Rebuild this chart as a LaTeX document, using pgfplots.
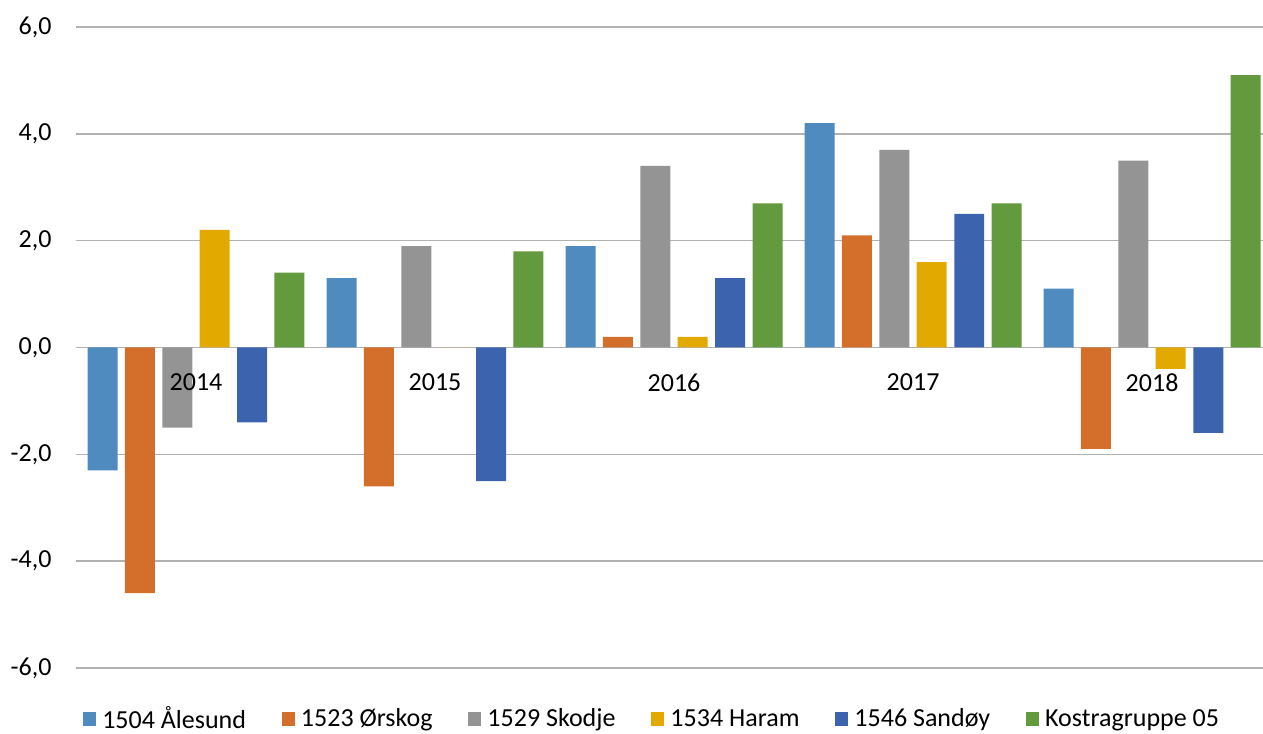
\documentclass[border=0pt]{standalone}
\usepackage{pgfplots}
\pgfplotsset{compat=1.18}
\usepackage{fontspec}
\setmainfont{Carlito}
\definecolor{cA}{RGB}{79,139,191}
\definecolor{cB}{RGB}{212,111,43}
\definecolor{cC}{RGB}{148,148,148}
\definecolor{cD}{RGB}{226,170,0}
\definecolor{cE}{RGB}{60,100,174}
\definecolor{cF}{RGB}{99,154,61}
\definecolor{gridc}{RGB}{178,178,178}
\begin{document}
\begin{tikzpicture}
\begin{axis}[
  scale only axis,
  width=593.25pt, height=320.5pt,
  xmin=-0.5, xmax=4.464,
  ymin=-6, ymax=6,
  ytick={-6,-4,-2,0,2,4,6},
  xtick={0,1,2,3,4},
  xticklabels={},
  axis line style={draw=none},
  major tick length=0pt,
  ymajorgrids,
  grid style={gridc, line width=0.75pt},
  font=\fontsize{13}{15}\selectfont,
  /pgf/number format/assume math mode=true,
  /pgf/number format/fixed,
  /pgf/number format/fixed zerofill,
  /pgf/number format/precision=1,
  /pgf/number format/use comma,
  yticklabel style={xshift=-9pt},
  ybar,
  bar width=0.1255,
  legend columns=6,
  legend style={draw=none, fill=none, at={(rel axis cs:0.486,-0.080)}, anchor=center,
    /tikz/every even column/.append style={column sep=16pt}, font=\fontsize{13}{15}\selectfont,
    /tikz/every odd column/.append style={column sep=1pt}},
  legend image code/.code={\fill[#1] (0pt,-3.4pt) rectangle (6.5pt,3.4pt);},
]
\addplot[fill=cA, draw=none, bar shift=-0.391] coordinates {(0,-2.3) (1,1.3) (2,1.9) (3,4.2) (4,1.1)};
\addplot[fill=cB, draw=none, bar shift=-0.235] coordinates {(0,-4.6) (1,-2.6) (2,0.2) (3,2.1) (4,-1.9)};
\addplot[fill=cC, draw=none, bar shift=-0.078] coordinates {(0,-1.5) (1,1.9) (2,3.4) (3,3.7) (4,3.5)};
\addplot[fill=cD, draw=none, bar shift=0.078] coordinates {(0,2.2) (1,0) (2,0.2) (3,1.6) (4,-0.4)};
\addplot[fill=cE, draw=none, bar shift=0.235] coordinates {(0,-1.4) (1,-2.5) (2,1.3) (3,2.5) (4,-1.6)};
\addplot[fill=cF, draw=none, bar shift=0.391] coordinates {(0,1.4) (1,1.8) (2,2.7) (3,2.7) (4,5.1)};
\legend{1504 Ålesund, 1523 Ørskog, 1529 Skodje, 1534 Haram, 1546 Sandøy, Kostragruppe 05}
\node[yshift=-17.5pt] at (axis cs:0,0) {2014};
\node[yshift=-17.5pt] at (axis cs:1,0) {2015};
\node[yshift=-17.5pt] at (axis cs:2,0) {2016};
\node[yshift=-17.5pt] at (axis cs:3,0) {2017};
\node[yshift=-17.5pt] at (axis cs:4,0) {2018};
\end{axis}
\pgfresetboundingbox
\path[use as bounding box] ([xshift=-38.25pt,yshift=-33pt]current axis.south west) rectangle ([yshift=13.5pt]current axis.north east);
\end{tikzpicture}
\end{document}
